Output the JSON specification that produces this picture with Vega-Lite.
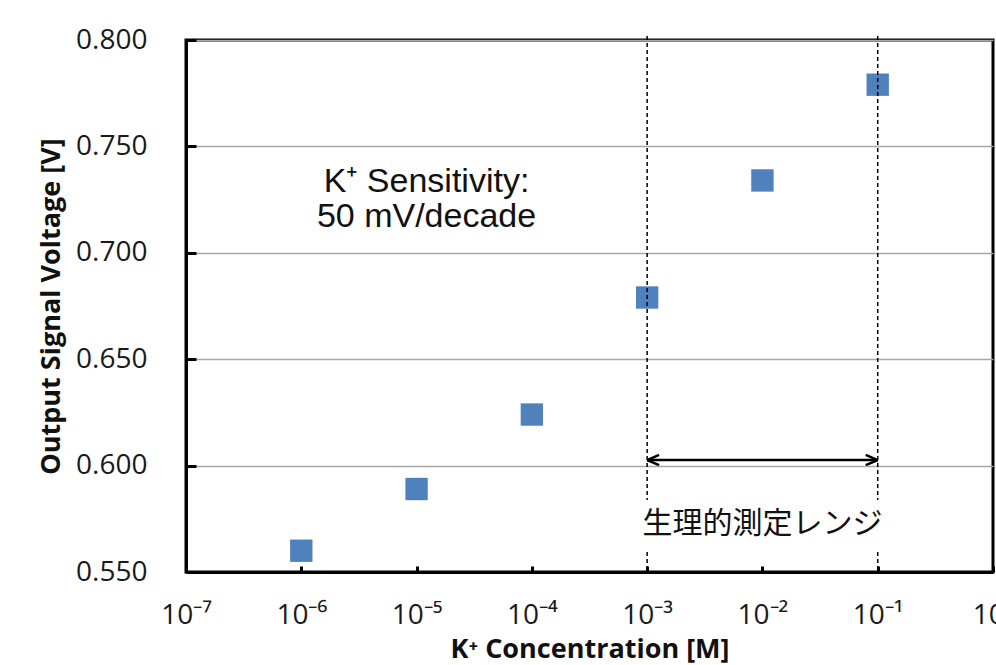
{
  "$schema": "https://vega.github.io/schema/vega-lite/v6.json",
  "width": 807,
  "height": 532,
  "autosize": {"type": "none"},
  "padding": {"left": 186, "top": 40, "right": 3, "bottom": 93},
  "background": "white",
  "config": {
    "view": {"stroke": "black", "strokeWidth": 3},
    "axis": {"domainColor": "black", "domainWidth": 3}
  },
  "datasets": {
    "points": [
      {"conc": 1e-6, "voltage": 0.560},
      {"conc": 1e-5, "voltage": 0.589},
      {"conc": 1e-4, "voltage": 0.624},
      {"conc": 1e-3, "voltage": 0.679},
      {"conc": 1e-2, "voltage": 0.734},
      {"conc": 1e-1, "voltage": 0.779}
    ],
    "dashes": [
      {"x": 0.001, "y1": 0.8019, "y2": 0.5838},
      {"x": 0.001, "y1": 0.5594, "y2": 0.55},
      {"x": 0.1, "y1": 0.8019, "y2": 0.5838},
      {"x": 0.1, "y1": 0.5594, "y2": 0.55}
    ],
    "arrow": [
      {"x1": 0.001, "x2": 0.1, "y1": 0.6026, "y2": 0.6026},
      {"x1": 0.001, "x2": 0.00127, "y1": 0.6026, "y2": 0.6050},
      {"x1": 0.001, "x2": 0.00127, "y1": 0.6026, "y2": 0.6002},
      {"x1": 0.1, "x2": 0.0787, "y1": 0.6026, "y2": 0.6050},
      {"x1": 0.1, "x2": 0.0787, "y1": 0.6026, "y2": 0.6002}
    ],
    "notes": [
      {"x": 1.22e-5, "y": 0.7333, "label": "K⁺ Sensitivity:"},
      {"x": 1.22e-5, "y": 0.7168, "label": "50 mV/decade"}
    ],
    "range": [
      {"x": 0.01, "y": 0.5725, "label": "生理的測定レンジ"}
    ]
  },
  "layer": [
    {
      "data": {"name": "points"},
      "mark": {"type": "point", "shape": "square", "filled": true, "size": 500, "color": "#4F81BD", "opacity": 1},
      "encoding": {
        "x": {
          "field": "conc", "type": "quantitative",
          "scale": {"type": "log", "domain": [1e-7, 1], "nice": false},
          "axis": {
            "title": "K⁺ Concentration [M]",
            "values": [1e-7, 1e-6, 1e-5, 1e-4, 1e-3, 1e-2, 1e-1, 1],
            "labelExpr": "datum.value < 5e-7 ? '10⁻⁷' : datum.value < 5e-6 ? '10⁻⁶' : datum.value < 5e-5 ? '10⁻⁵' : datum.value < 5e-4 ? '10⁻⁴' : datum.value < 5e-3 ? '10⁻³' : datum.value < 5e-2 ? '10⁻²' : datum.value < 0.5 ? '10⁻¹' : '10⁰'",
            "grid": false,
            "ticks": true,
            "tickSize": -6,
            "tickWidth": 3,
            "tickColor": "black",
            "labelFont": "Open Sans",
            "labelFontSize": 28,
            "labelColor": "#1a1a1a",
            "labelPadding": 35,
            "labelFlush": false,
            "labelOverlap": false,
            "labelBound": false,
            "titleFont": "Open Sans",
            "titleFontSize": 27,
            "titleFontWeight": "bold",
            "titleColor": "#111111",
            "titlePadding": 7
          }
        },
        "y": {
          "field": "voltage", "type": "quantitative",
          "scale": {"domain": [0.55, 0.8], "nice": false, "zero": false},
          "axis": {
            "title": "Output Signal Voltage [V]",
            "values": [0.55, 0.6, 0.65, 0.7, 0.75, 0.8],
            "format": ".3f",
            "grid": true,
            "gridColor": "#a6a6a6",
            "gridWidth": 1.5,
            "tickSize": -10,
            "tickWidth": 3,
            "tickColor": "black",
            "labelFont": "Open Sans",
            "labelFontSize": 28,
            "labelColor": "#1a1a1a",
            "labelPadding": 49,
            "labelBound": false,
            "labelFlush": false,
            "labelOverlap": false,
            "titleFont": "Open Sans",
            "titleFontSize": 27,
            "titleFontWeight": "bold",
            "titleColor": "#111111",
            "titlePadding": 10
          }
        }
      }
    },
    {
      "data": {"name": "dashes"},
      "mark": {"type": "rule", "color": "black", "strokeWidth": 1.5, "strokeDash": [4, 3]},
      "encoding": {
        "x": {"field": "x", "type": "quantitative"},
        "y": {"field": "y1", "type": "quantitative"},
        "y2": {"field": "y2"}
      }
    },
    {
      "data": {"name": "arrow"},
      "mark": {"type": "rule", "color": "black", "strokeWidth": 2.5},
      "encoding": {
        "x": {"field": "x1", "type": "quantitative"},
        "x2": {"field": "x2"},
        "y": {"field": "y1", "type": "quantitative"},
        "y2": {"field": "y2"}
      }
    },
    {
      "data": {"name": "notes"},
      "mark": {"type": "text", "font": "Liberation Sans", "fontSize": 34, "color": "#111111", "align": "center", "baseline": "middle"},
      "encoding": {
        "x": {"field": "x", "type": "quantitative"},
        "y": {"field": "y", "type": "quantitative"},
        "text": {"field": "label"}
      }
    },
    {
      "data": {"name": "range"},
      "mark": {"type": "text", "font": "Noto Sans CJK JP", "fontSize": 30, "color": "#111111", "align": "center", "baseline": "middle"},
      "encoding": {
        "x": {"field": "x", "type": "quantitative"},
        "y": {"field": "y", "type": "quantitative"},
        "text": {"field": "label"}
      }
    }
  ]
}
